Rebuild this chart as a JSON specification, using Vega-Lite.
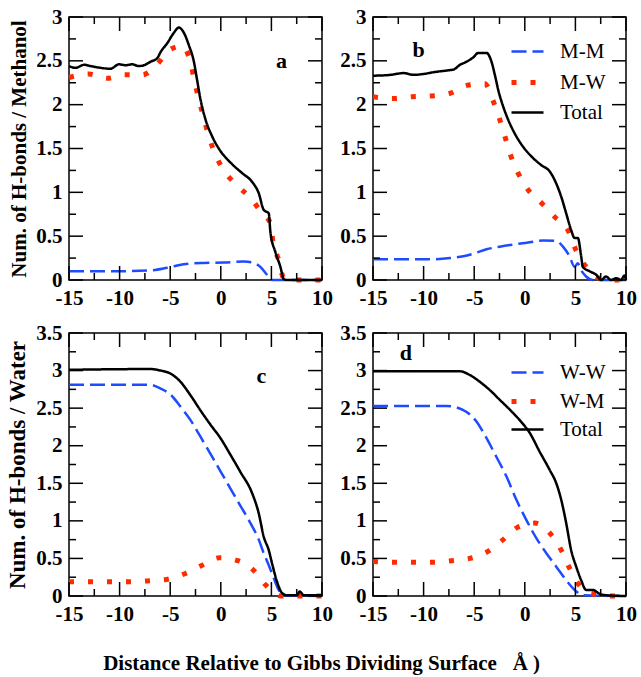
{
  "$schema": "https://vega.github.io/schema/vega-lite/v6.json",
  "datasets": {
    "a": [
      {"x": -15, "y": 0.10, "s": "M-M"}, {"x": -12.86, "y": 0.10, "s": "M-M"}, {"x": -9.9, "y": 0.10, "s": "M-M"}, {"x": -6.94, "y": 0.11, "s": "M-M"}, {"x": -5.3, "y": 0.14, "s": "M-M"}, {"x": -3.65, "y": 0.18, "s": "M-M"}, {"x": -1.68, "y": 0.195, "s": "M-M"}, {"x": 0.3, "y": 0.20, "s": "M-M"}, {"x": 2.27, "y": 0.21, "s": "M-M"}, {"x": 3.09, "y": 0.20, "s": "M-M"}, {"x": 3.91, "y": 0.15, "s": "M-M"}, {"x": 4.57, "y": 0.06, "s": "M-M"}, {"x": 5.07, "y": 0.0, "s": "M-M"}, {"x": 10, "y": 0, "s": "M-M"},
      {"x": -15, "y": 2.31, "s": "M-W"}, {"x": -13.03, "y": 2.35, "s": "M-W"}, {"x": -11.22, "y": 2.30, "s": "M-W"}, {"x": -9.57, "y": 2.34, "s": "M-W"}, {"x": -7.76, "y": 2.34, "s": "M-W"}, {"x": -6.28, "y": 2.46, "s": "M-W"}, {"x": -5.13, "y": 2.62, "s": "M-W"}, {"x": -3.82, "y": 2.67, "s": "M-W"}, {"x": -2.99, "y": 2.48, "s": "M-W"}, {"x": -2.6, "y": 2.27, "s": "M-W"}, {"x": -2.17, "y": 2.06, "s": "M-W"}, {"x": -1.68, "y": 1.85, "s": "M-W"}, {"x": -1.18, "y": 1.64, "s": "M-W"}, {"x": -0.53, "y": 1.43, "s": "M-W"}, {"x": 0.36, "y": 1.24, "s": "M-W"}, {"x": 1.68, "y": 1.07, "s": "M-W"}, {"x": 2.99, "y": 0.93, "s": "M-W"}, {"x": 4.08, "y": 0.76, "s": "M-W"}, {"x": 4.9, "y": 0.65, "s": "M-W"}, {"x": 5.16, "y": 0.43, "s": "M-W"}, {"x": 5.72, "y": 0.23, "s": "M-W"}, {"x": 6.22, "y": 0.02, "s": "M-W"}, {"x": 7.2, "y": 0, "s": "M-W"}, {"x": 10, "y": 0, "s": "M-W"},
      {"x": -15, "y": 2.44, "s": "Total"}, {"x": -14.34, "y": 2.42, "s": "Total"}, {"x": -13.52, "y": 2.455, "s": "Total"}, {"x": -12.86, "y": 2.44, "s": "Total"}, {"x": -11.88, "y": 2.42, "s": "Total"}, {"x": -10.89, "y": 2.41, "s": "Total"}, {"x": -10.07, "y": 2.46, "s": "Total"}, {"x": -9.41, "y": 2.45, "s": "Total"}, {"x": -8.75, "y": 2.46, "s": "Total"}, {"x": -8.09, "y": 2.44, "s": "Total"}, {"x": -7.6, "y": 2.45, "s": "Total"}, {"x": -6.94, "y": 2.49, "s": "Total"}, {"x": -6.28, "y": 2.53, "s": "Total"}, {"x": -5.95, "y": 2.6, "s": "Total"}, {"x": -5.3, "y": 2.7, "s": "Total"}, {"x": -4.64, "y": 2.82, "s": "Total"}, {"x": -4.14, "y": 2.88, "s": "Total"}, {"x": -3.65, "y": 2.82, "s": "Total"}, {"x": -3.16, "y": 2.68, "s": "Total"}, {"x": -2.66, "y": 2.49, "s": "Total"}, {"x": -2.34, "y": 2.28, "s": "Total"}, {"x": -2.01, "y": 2.06, "s": "Total"}, {"x": -1.51, "y": 1.83, "s": "Total"}, {"x": -0.86, "y": 1.64, "s": "Total"}, {"x": -0.03, "y": 1.47, "s": "Total"}, {"x": 0.95, "y": 1.34, "s": "Total"}, {"x": 2.1, "y": 1.22, "s": "Total"}, {"x": 3.09, "y": 1.12, "s": "Total"}, {"x": 3.75, "y": 0.99, "s": "Total"}, {"x": 4.24, "y": 0.80, "s": "Total"}, {"x": 4.74, "y": 0.76, "s": "Total"}, {"x": 4.9, "y": 0.55, "s": "Total"}, {"x": 5.39, "y": 0.32, "s": "Total"}, {"x": 5.89, "y": 0.15, "s": "Total"}, {"x": 6.22, "y": 0.01, "s": "Total"}, {"x": 6.55, "y": 0, "s": "Total"}, {"x": 10, "y": 0, "s": "Total"}
    ],
    "b": [
      {"x": -15, "y": 0.236, "s": "M-M"}, {"x": -13.29, "y": 0.236, "s": "M-M"}, {"x": -11.33, "y": 0.236, "s": "M-M"}, {"x": -9.36, "y": 0.236, "s": "M-M"}, {"x": -7.39, "y": 0.25, "s": "M-M"}, {"x": -6.08, "y": 0.27, "s": "M-M"}, {"x": -5.09, "y": 0.30, "s": "M-M"}, {"x": -3.78, "y": 0.35, "s": "M-M"}, {"x": -2.47, "y": 0.38, "s": "M-M"}, {"x": -0.83, "y": 0.41, "s": "M-M"}, {"x": 0.49, "y": 0.43, "s": "M-M"}, {"x": 1.8, "y": 0.45, "s": "M-M"}, {"x": 3.11, "y": 0.445, "s": "M-M"}, {"x": 3.77, "y": 0.38, "s": "M-M"}, {"x": 4.42, "y": 0.27, "s": "M-M"}, {"x": 4.91, "y": 0.15, "s": "M-M"}, {"x": 5.24, "y": 0.19, "s": "M-M"}, {"x": 5.57, "y": 0.11, "s": "M-M"}, {"x": 6.06, "y": 0.04, "s": "M-M"}, {"x": 6.72, "y": 0, "s": "M-M"}, {"x": 10, "y": 0, "s": "M-M"},
      {"x": -15, "y": 2.09, "s": "M-W"}, {"x": -12.97, "y": 2.07, "s": "M-W"}, {"x": -11.16, "y": 2.09, "s": "M-W"}, {"x": -9.19, "y": 2.10, "s": "M-W"}, {"x": -7.39, "y": 2.13, "s": "M-W"}, {"x": -5.75, "y": 2.22, "s": "M-W"}, {"x": -3.94, "y": 2.24, "s": "M-W"}, {"x": -3.12, "y": 2.04, "s": "M-W"}, {"x": -2.53, "y": 1.85, "s": "M-W"}, {"x": -1.97, "y": 1.64, "s": "M-W"}, {"x": -1.42, "y": 1.43, "s": "M-W"}, {"x": -0.66, "y": 1.22, "s": "M-W"}, {"x": 0.32, "y": 1.03, "s": "M-W"}, {"x": 1.63, "y": 0.88, "s": "M-W"}, {"x": 2.95, "y": 0.72, "s": "M-W"}, {"x": 4.26, "y": 0.57, "s": "M-W"}, {"x": 4.98, "y": 0.36, "s": "M-W"}, {"x": 5.57, "y": 0.23, "s": "M-W"}, {"x": 6.39, "y": 0.11, "s": "M-W"}, {"x": 7.05, "y": 0.03, "s": "M-W"}, {"x": 8.2, "y": 0.01, "s": "M-W"}, {"x": 9.02, "y": 0, "s": "M-W"}, {"x": 10, "y": 0, "s": "M-W"},
      {"x": -15, "y": 2.33, "s": "Total"}, {"x": -13.29, "y": 2.34, "s": "Total"}, {"x": -11.98, "y": 2.36, "s": "Total"}, {"x": -11.0, "y": 2.34, "s": "Total"}, {"x": -10.01, "y": 2.35, "s": "Total"}, {"x": -9.03, "y": 2.37, "s": "Total"}, {"x": -7.72, "y": 2.39, "s": "Total"}, {"x": -7.06, "y": 2.40, "s": "Total"}, {"x": -6.4, "y": 2.455, "s": "Total"}, {"x": -5.75, "y": 2.49, "s": "Total"}, {"x": -5.09, "y": 2.54, "s": "Total"}, {"x": -4.6, "y": 2.59, "s": "Total"}, {"x": -3.78, "y": 2.59, "s": "Total"}, {"x": -3.29, "y": 2.49, "s": "Total"}, {"x": -2.96, "y": 2.34, "s": "Total"}, {"x": -2.63, "y": 2.17, "s": "Total"}, {"x": -2.14, "y": 1.98, "s": "Total"}, {"x": -1.65, "y": 1.83, "s": "Total"}, {"x": -0.99, "y": 1.67, "s": "Total"}, {"x": -0.17, "y": 1.52, "s": "Total"}, {"x": 0.65, "y": 1.41, "s": "Total"}, {"x": 1.63, "y": 1.31, "s": "Total"}, {"x": 2.45, "y": 1.24, "s": "Total"}, {"x": 3.11, "y": 1.10, "s": "Total"}, {"x": 3.6, "y": 0.95, "s": "Total"}, {"x": 4.09, "y": 0.76, "s": "Total"}, {"x": 4.58, "y": 0.57, "s": "Total"}, {"x": 4.91, "y": 0.48, "s": "Total"}, {"x": 5.24, "y": 0.48, "s": "Total"}, {"x": 5.57, "y": 0.27, "s": "Total"}, {"x": 5.73, "y": 0.15, "s": "Total"}, {"x": 6.39, "y": 0.10, "s": "Total"}, {"x": 7.05, "y": 0.06, "s": "Total"}, {"x": 7.54, "y": 0, "s": "Total"}, {"x": 8.03, "y": 0.04, "s": "Total"}, {"x": 8.52, "y": 0, "s": "Total"}, {"x": 9.02, "y": 0.02, "s": "Total"}, {"x": 9.51, "y": 0, "s": "Total"}, {"x": 9.84, "y": 0.05, "s": "Total"}, {"x": 10, "y": 0, "s": "Total"}
    ],
    "c": [
      {"x": -15, "y": 2.81, "s": "W-W"}, {"x": -6.94, "y": 2.81, "s": "W-W"}, {"x": -5.95, "y": 2.76, "s": "W-W"}, {"x": -4.97, "y": 2.68, "s": "W-W"}, {"x": -3.98, "y": 2.52, "s": "W-W"}, {"x": -2.99, "y": 2.34, "s": "W-W"}, {"x": -2.01, "y": 2.12, "s": "W-W"}, {"x": -1.02, "y": 1.89, "s": "W-W"}, {"x": -0.03, "y": 1.66, "s": "W-W"}, {"x": 0.95, "y": 1.43, "s": "W-W"}, {"x": 1.94, "y": 1.20, "s": "W-W"}, {"x": 2.93, "y": 0.97, "s": "W-W"}, {"x": 3.75, "y": 0.75, "s": "W-W"}, {"x": 4.24, "y": 0.57, "s": "W-W"}, {"x": 4.74, "y": 0.41, "s": "W-W"}, {"x": 5.23, "y": 0.24, "s": "W-W"}, {"x": 5.72, "y": 0.08, "s": "W-W"}, {"x": 6.22, "y": 0.01, "s": "W-W"}, {"x": 10, "y": 0, "s": "W-W"},
      {"x": -15, "y": 0.19, "s": "W-M"}, {"x": -12.86, "y": 0.19, "s": "W-M"}, {"x": -11.05, "y": 0.19, "s": "W-M"}, {"x": -9.08, "y": 0.19, "s": "W-M"}, {"x": -7.27, "y": 0.20, "s": "W-M"}, {"x": -5.36, "y": 0.22, "s": "W-M"}, {"x": -3.49, "y": 0.30, "s": "W-M"}, {"x": -1.84, "y": 0.41, "s": "W-M"}, {"x": -0.1, "y": 0.51, "s": "W-M"}, {"x": 1.68, "y": 0.47, "s": "W-M"}, {"x": 3.26, "y": 0.34, "s": "W-M"}, {"x": 4.41, "y": 0.15, "s": "W-M"}, {"x": 6.05, "y": 0, "s": "W-M"}, {"x": 7.7, "y": 0, "s": "W-M"}, {"x": 10, "y": 0, "s": "W-M"},
      {"x": -15, "y": 3.01, "s": "Total"}, {"x": -7.43, "y": 3.02, "s": "Total"}, {"x": -6.94, "y": 3.02, "s": "Total"}, {"x": -5.95, "y": 3.0, "s": "Total"}, {"x": -4.97, "y": 2.96, "s": "Total"}, {"x": -3.98, "y": 2.85, "s": "Total"}, {"x": -2.99, "y": 2.67, "s": "Total"}, {"x": -2.01, "y": 2.47, "s": "Total"}, {"x": -1.02, "y": 2.28, "s": "Total"}, {"x": -0.03, "y": 2.10, "s": "Total"}, {"x": 0.95, "y": 1.88, "s": "Total"}, {"x": 1.94, "y": 1.65, "s": "Total"}, {"x": 3.09, "y": 1.37, "s": "Total"}, {"x": 3.75, "y": 1.10, "s": "Total"}, {"x": 4.24, "y": 0.79, "s": "Total"}, {"x": 4.74, "y": 0.61, "s": "Total"}, {"x": 5.07, "y": 0.43, "s": "Total"}, {"x": 5.56, "y": 0.19, "s": "Total"}, {"x": 6.05, "y": 0.04, "s": "Total"}, {"x": 6.55, "y": 0.01, "s": "Total"}, {"x": 7.53, "y": 0.01, "s": "Total"}, {"x": 7.8, "y": 0.06, "s": "Total"}, {"x": 8.19, "y": 0.01, "s": "Total"}, {"x": 10, "y": 0.01, "s": "Total"}
    ],
    "d": [
      {"x": -15, "y": 2.53, "s": "W-W"}, {"x": -7.72, "y": 2.53, "s": "W-W"}, {"x": -6.73, "y": 2.51, "s": "W-W"}, {"x": -5.75, "y": 2.45, "s": "W-W"}, {"x": -4.76, "y": 2.32, "s": "W-W"}, {"x": -3.78, "y": 2.10, "s": "W-W"}, {"x": -2.8, "y": 1.85, "s": "W-W"}, {"x": -1.81, "y": 1.59, "s": "W-W"}, {"x": -0.83, "y": 1.28, "s": "W-W"}, {"x": 0.16, "y": 1.01, "s": "W-W"}, {"x": 1.14, "y": 0.77, "s": "W-W"}, {"x": 2.13, "y": 0.57, "s": "W-W"}, {"x": 3.11, "y": 0.39, "s": "W-W"}, {"x": 4.09, "y": 0.21, "s": "W-W"}, {"x": 5.08, "y": 0.06, "s": "W-W"}, {"x": 5.73, "y": 0.01, "s": "W-W"}, {"x": 10, "y": 0, "s": "W-W"},
      {"x": -15, "y": 0.46, "s": "W-M"}, {"x": -12.97, "y": 0.45, "s": "W-M"}, {"x": -11.0, "y": 0.45, "s": "W-M"}, {"x": -9.03, "y": 0.45, "s": "W-M"}, {"x": -7.22, "y": 0.47, "s": "W-M"}, {"x": -5.42, "y": 0.50, "s": "W-M"}, {"x": -3.68, "y": 0.59, "s": "W-M"}, {"x": -2.14, "y": 0.75, "s": "W-M"}, {"x": -0.76, "y": 0.91, "s": "W-M"}, {"x": 0.98, "y": 0.97, "s": "W-M"}, {"x": 2.52, "y": 0.83, "s": "W-M"}, {"x": 3.6, "y": 0.61, "s": "W-M"}, {"x": 4.42, "y": 0.37, "s": "W-M"}, {"x": 5.24, "y": 0.17, "s": "W-M"}, {"x": 6.39, "y": 0.04, "s": "W-M"}, {"x": 8.42, "y": 0, "s": "W-M"}, {"x": 10, "y": 0, "s": "W-M"},
      {"x": -15, "y": 2.99, "s": "Total"}, {"x": -6.4, "y": 2.99, "s": "Total"}, {"x": -5.42, "y": 2.94, "s": "Total"}, {"x": -4.44, "y": 2.85, "s": "Total"}, {"x": -3.45, "y": 2.74, "s": "Total"}, {"x": -2.47, "y": 2.61, "s": "Total"}, {"x": -1.48, "y": 2.48, "s": "Total"}, {"x": -0.5, "y": 2.34, "s": "Total"}, {"x": 0.49, "y": 2.17, "s": "Total"}, {"x": 1.47, "y": 1.92, "s": "Total"}, {"x": 2.45, "y": 1.68, "s": "Total"}, {"x": 3.11, "y": 1.50, "s": "Total"}, {"x": 3.6, "y": 1.28, "s": "Total"}, {"x": 4.09, "y": 0.97, "s": "Total"}, {"x": 4.58, "y": 0.61, "s": "Total"}, {"x": 5.08, "y": 0.39, "s": "Total"}, {"x": 5.57, "y": 0.21, "s": "Total"}, {"x": 6.06, "y": 0.08, "s": "Total"}, {"x": 6.72, "y": 0.08, "s": "Total"}, {"x": 7.38, "y": 0.03, "s": "Total"}, {"x": 8.03, "y": 0.01, "s": "Total"}, {"x": 10, "y": 0, "s": "Total"}
    ],
    "xt": [
      {"v": -15, "k": "major"}, {"v": -12.5, "k": "minor"}, {"v": -10, "k": "major"}, {"v": -7.5, "k": "minor"}, {"v": -5, "k": "major"}, {"v": -2.5, "k": "minor"}, {"v": 0, "k": "major"}, {"v": 2.5, "k": "minor"}, {"v": 5, "k": "major"}, {"v": 7.5, "k": "minor"}, {"v": 10, "k": "major"}
    ],
    "yt3": [
      {"v": 0, "k": "major"}, {"v": 0.25, "k": "minor"}, {"v": 0.5, "k": "major"}, {"v": 0.75, "k": "minor"}, {"v": 1, "k": "major"}, {"v": 1.25, "k": "minor"}, {"v": 1.5, "k": "major"}, {"v": 1.75, "k": "minor"}, {"v": 2, "k": "major"}, {"v": 2.25, "k": "minor"}, {"v": 2.5, "k": "major"}, {"v": 2.75, "k": "minor"}, {"v": 3, "k": "major"}
    ],
    "yt35": [
      {"v": 0, "k": "major"}, {"v": 0.25, "k": "minor"}, {"v": 0.5, "k": "major"}, {"v": 0.75, "k": "minor"}, {"v": 1, "k": "major"}, {"v": 1.25, "k": "minor"}, {"v": 1.5, "k": "major"}, {"v": 1.75, "k": "minor"}, {"v": 2, "k": "major"}, {"v": 2.25, "k": "minor"}, {"v": 2.5, "k": "major"}, {"v": 2.75, "k": "minor"}, {"v": 3, "k": "major"}, {"v": 3.25, "k": "minor"}, {"v": 3.5, "k": "major"}
    ]
  },
  "columns": 2,
  "spacing": {"row": 53, "column": 51},
  "bounds": "flush",
  "title": {"text": "Distance Relative to Gibbs Dividing Surface\u00a0\u00a0\u00a0Å )", "orient": "bottom", "anchor": "middle", "font": "Liberation Serif", "fontSize": 21, "fontWeight": "bold", "color": "black", "offset": 28},
  "resolve": {"scale": {"color": "independent", "strokeDash": "independent", "strokeWidth": "independent"}},
  "concat": [
    {
      "width": 253, "height": 263,
      "resolve": {"axis": {"x": "independent", "y": "independent"}},
      "layer": [
        {
          "data": {"name": "a"},
          "mark": {"type": "line", "interpolate": "monotone", "strokeCap": "butt"},
          "encoding": {
            "x": {"field": "x", "type": "quantitative", "scale": {"domain": [-15, 10], "nice": false, "zero": false}, "axis": {"orient": "bottom", "values": [-15, -10, -5, 0, 5, 10], "ticks": false, "tickSize": 0, "labelPadding": 7, "labelFlush": false, "labelExpr": "toString(datum.value)", "title": null}},
            "y": {"field": "y", "type": "quantitative", "scale": {"domain": [0, 3], "nice": false, "zero": false}, "axis": {"orient": "left", "values": [0, 0.5, 1, 1.5, 2, 2.5, 3], "ticks": false, "tickSize": 0, "labelPadding": 7, "labelFlush": false, "labelExpr": "toString(datum.value)", "title": "Num. of H-bonds / Methanol", "titlePadding": 6}},
            "color": {"field": "s", "type": "nominal", "scale": {"domain": ["M-M", "M-W", "Total"], "range": ["#1e4bff", "#ff2a00", "#000000"]}, "legend": null},
            "strokeDash": {"field": "s", "type": "nominal", "scale": {"domain": ["M-M", "M-W", "Total"], "range": [[15, 6], [5, 14], [1, 0]]}, "legend": null},
            "strokeWidth": {"field": "s", "type": "nominal", "scale": {"type": "ordinal", "domain": ["M-M", "M-W", "Total"], "range": [2.5, 5, 2.5]}, "legend": null}
          }
        },
        {
          "data": {"values": [{"x": 6, "y": 2.5, "t": "a"}]},
          "mark": {"type": "text", "font": "Liberation Serif", "fontSize": 22, "fontWeight": "bold", "color": "black"},
          "encoding": {
            "x": {"field": "x", "type": "quantitative", "scale": {"domain": [-15, 10], "nice": false, "zero": false}, "axis": null},
            "y": {"field": "y", "type": "quantitative", "scale": {"domain": [0, 3], "nice": false, "zero": false}, "axis": null},
            "text": {"field": "t"}
          }
        },
        {
          "data": {"name": "xt"},
          "mark": {"type": "point", "shape": "M0,0L0,-1", "filled": false, "color": "black", "strokeWidth": 1.5, "opacity": 1},
          "encoding": {
            "x": {"field": "v", "type": "quantitative", "scale": {"domain": [-15, 10], "nice": false, "zero": false}, "axis": null},
            "y": {"datum": 0, "type": "quantitative", "scale": {"domain": [0, 3], "nice": false, "zero": false}, "axis": null},
            "size": {"field": "k", "type": "nominal", "scale": {"type": "ordinal", "domain": ["major", "minor"], "range": [784, 196]}, "legend": null}
          }
        },
        {
          "data": {"name": "xt"},
          "mark": {"type": "point", "shape": "M0,0L0,1", "filled": false, "color": "black", "strokeWidth": 1.5, "opacity": 1},
          "encoding": {
            "x": {"field": "v", "type": "quantitative", "scale": {"domain": [-15, 10], "nice": false, "zero": false}, "axis": null},
            "y": {"datum": 3, "type": "quantitative", "scale": {"domain": [0, 3], "nice": false, "zero": false}, "axis": null},
            "size": {"field": "k", "type": "nominal", "scale": {"type": "ordinal", "domain": ["major", "minor"], "range": [784, 196]}, "legend": null}
          }
        },
        {
          "data": {"name": "yt3"},
          "mark": {"type": "point", "shape": "M0,0L1,0", "filled": false, "color": "black", "strokeWidth": 1.5, "opacity": 1},
          "encoding": {
            "y": {"field": "v", "type": "quantitative", "scale": {"domain": [0, 3], "nice": false, "zero": false}, "axis": null},
            "x": {"datum": -15, "type": "quantitative", "scale": {"domain": [-15, 10], "nice": false, "zero": false}, "axis": null},
            "size": {"field": "k", "type": "nominal", "scale": {"type": "ordinal", "domain": ["major", "minor"], "range": [784, 196]}, "legend": null}
          }
        },
        {
          "data": {"name": "yt3"},
          "mark": {"type": "point", "shape": "M0,0L-1,0", "filled": false, "color": "black", "strokeWidth": 1.5, "opacity": 1},
          "encoding": {
            "y": {"field": "v", "type": "quantitative", "scale": {"domain": [0, 3], "nice": false, "zero": false}, "axis": null},
            "x": {"datum": 10, "type": "quantitative", "scale": {"domain": [-15, 10], "nice": false, "zero": false}, "axis": null},
            "size": {"field": "k", "type": "nominal", "scale": {"type": "ordinal", "domain": ["major", "minor"], "range": [784, 196]}, "legend": null}
          }
        }
      ]
    },
    {
      "width": 253, "height": 263,
      "resolve": {"axis": {"x": "independent", "y": "independent"}},
      "layer": [
        {
          "data": {"name": "b"},
          "mark": {"type": "line", "interpolate": "monotone", "strokeCap": "butt"},
          "encoding": {
            "x": {"field": "x", "type": "quantitative", "scale": {"domain": [-15, 10], "nice": false, "zero": false}, "axis": {"orient": "bottom", "values": [-15, -10, -5, 0, 5, 10], "ticks": false, "tickSize": 0, "labelPadding": 7, "labelFlush": false, "labelExpr": "toString(datum.value)", "title": null}},
            "y": {"field": "y", "type": "quantitative", "scale": {"domain": [0, 3], "nice": false, "zero": false}, "axis": {"orient": "left", "values": [0, 0.5, 1, 1.5, 2, 2.5, 3], "ticks": false, "tickSize": 0, "labelPadding": 7, "labelFlush": false, "labelExpr": "toString(datum.value)", "title": null}},
            "color": {"field": "s", "type": "nominal", "scale": {"domain": ["M-M", "M-W", "Total"], "range": ["#1e4bff", "#ff2a00", "#000000"]}, "legend": {"orient": "none", "legendX": 136, "legendY": 17, "title": null, "symbolType": "M-1,0L1,0", "symbolSize": 1024, "labelFont": "Liberation Serif", "labelFontSize": 21, "labelFontWeight": "normal", "labelColor": "black", "labelOffset": 14, "rowPadding": 2, "padding": 0}},
            "strokeDash": {"field": "s", "type": "nominal", "scale": {"domain": ["M-M", "M-W", "Total"], "range": [[15, 6], [5, 14], [1, 0]]}, "legend": {"orient": "none", "legendX": 136, "legendY": 17, "title": null, "symbolType": "M-1,0L1,0", "symbolSize": 1024, "labelFont": "Liberation Serif", "labelFontSize": 21, "labelFontWeight": "normal", "labelColor": "black", "labelOffset": 14, "rowPadding": 2, "padding": 0}},
            "strokeWidth": {"field": "s", "type": "nominal", "scale": {"type": "ordinal", "domain": ["M-M", "M-W", "Total"], "range": [2.5, 5, 2.5]}, "legend": {"orient": "none", "legendX": 136, "legendY": 17, "title": null, "symbolType": "M-1,0L1,0", "symbolSize": 1024, "labelFont": "Liberation Serif", "labelFontSize": 21, "labelFontWeight": "normal", "labelColor": "black", "labelOffset": 14, "rowPadding": 2, "padding": 0}}
          }
        },
        {
          "data": {"values": [{"x": -10.5, "y": 2.62, "t": "b"}]},
          "mark": {"type": "text", "font": "Liberation Serif", "fontSize": 22, "fontWeight": "bold", "color": "black"},
          "encoding": {
            "x": {"field": "x", "type": "quantitative", "scale": {"domain": [-15, 10], "nice": false, "zero": false}, "axis": null},
            "y": {"field": "y", "type": "quantitative", "scale": {"domain": [0, 3], "nice": false, "zero": false}, "axis": null},
            "text": {"field": "t"}
          }
        },
        {
          "data": {"name": "xt"},
          "mark": {"type": "point", "shape": "M0,0L0,-1", "filled": false, "color": "black", "strokeWidth": 1.5, "opacity": 1},
          "encoding": {
            "x": {"field": "v", "type": "quantitative", "scale": {"domain": [-15, 10], "nice": false, "zero": false}, "axis": null},
            "y": {"datum": 0, "type": "quantitative", "scale": {"domain": [0, 3], "nice": false, "zero": false}, "axis": null},
            "size": {"field": "k", "type": "nominal", "scale": {"type": "ordinal", "domain": ["major", "minor"], "range": [784, 196]}, "legend": null}
          }
        },
        {
          "data": {"name": "xt"},
          "mark": {"type": "point", "shape": "M0,0L0,1", "filled": false, "color": "black", "strokeWidth": 1.5, "opacity": 1},
          "encoding": {
            "x": {"field": "v", "type": "quantitative", "scale": {"domain": [-15, 10], "nice": false, "zero": false}, "axis": null},
            "y": {"datum": 3, "type": "quantitative", "scale": {"domain": [0, 3], "nice": false, "zero": false}, "axis": null},
            "size": {"field": "k", "type": "nominal", "scale": {"type": "ordinal", "domain": ["major", "minor"], "range": [784, 196]}, "legend": null}
          }
        },
        {
          "data": {"name": "yt3"},
          "mark": {"type": "point", "shape": "M0,0L1,0", "filled": false, "color": "black", "strokeWidth": 1.5, "opacity": 1},
          "encoding": {
            "y": {"field": "v", "type": "quantitative", "scale": {"domain": [0, 3], "nice": false, "zero": false}, "axis": null},
            "x": {"datum": -15, "type": "quantitative", "scale": {"domain": [-15, 10], "nice": false, "zero": false}, "axis": null},
            "size": {"field": "k", "type": "nominal", "scale": {"type": "ordinal", "domain": ["major", "minor"], "range": [784, 196]}, "legend": null}
          }
        },
        {
          "data": {"name": "yt3"},
          "mark": {"type": "point", "shape": "M0,0L-1,0", "filled": false, "color": "black", "strokeWidth": 1.5, "opacity": 1},
          "encoding": {
            "y": {"field": "v", "type": "quantitative", "scale": {"domain": [0, 3], "nice": false, "zero": false}, "axis": null},
            "x": {"datum": 10, "type": "quantitative", "scale": {"domain": [-15, 10], "nice": false, "zero": false}, "axis": null},
            "size": {"field": "k", "type": "nominal", "scale": {"type": "ordinal", "domain": ["major", "minor"], "range": [784, 196]}, "legend": null}
          }
        }
      ]
    },
    {
      "width": 253, "height": 263,
      "resolve": {"axis": {"x": "independent", "y": "independent"}},
      "layer": [
        {
          "data": {"name": "c"},
          "mark": {"type": "line", "interpolate": "monotone", "strokeCap": "butt"},
          "encoding": {
            "x": {"field": "x", "type": "quantitative", "scale": {"domain": [-15, 10], "nice": false, "zero": false}, "axis": {"orient": "bottom", "values": [-15, -10, -5, 0, 5, 10], "ticks": false, "tickSize": 0, "labelPadding": 7, "labelFlush": false, "labelExpr": "toString(datum.value)", "title": null}},
            "y": {"field": "y", "type": "quantitative", "scale": {"domain": [0, 3.5], "nice": false, "zero": false}, "axis": {"orient": "left", "values": [0, 0.5, 1, 1.5, 2, 2.5, 3, 3.5], "ticks": false, "tickSize": 0, "labelPadding": 7, "labelFlush": false, "labelExpr": "toString(datum.value)", "title": "Num. of H-bonds / Water", "titlePadding": 6, "titleFontSize": 23}},
            "color": {"field": "s", "type": "nominal", "scale": {"domain": ["W-W", "W-M", "Total"], "range": ["#1e4bff", "#ff2a00", "#000000"]}, "legend": null},
            "strokeDash": {"field": "s", "type": "nominal", "scale": {"domain": ["W-W", "W-M", "Total"], "range": [[15, 6], [5, 14], [1, 0]]}, "legend": null},
            "strokeWidth": {"field": "s", "type": "nominal", "scale": {"type": "ordinal", "domain": ["W-W", "W-M", "Total"], "range": [2.5, 5, 2.5]}, "legend": null}
          }
        },
        {
          "data": {"values": [{"x": 4, "y": 2.93, "t": "c"}]},
          "mark": {"type": "text", "font": "Liberation Serif", "fontSize": 22, "fontWeight": "bold", "color": "black"},
          "encoding": {
            "x": {"field": "x", "type": "quantitative", "scale": {"domain": [-15, 10], "nice": false, "zero": false}, "axis": null},
            "y": {"field": "y", "type": "quantitative", "scale": {"domain": [0, 3.5], "nice": false, "zero": false}, "axis": null},
            "text": {"field": "t"}
          }
        },
        {
          "data": {"name": "xt"},
          "mark": {"type": "point", "shape": "M0,0L0,-1", "filled": false, "color": "black", "strokeWidth": 1.5, "opacity": 1},
          "encoding": {
            "x": {"field": "v", "type": "quantitative", "scale": {"domain": [-15, 10], "nice": false, "zero": false}, "axis": null},
            "y": {"datum": 0, "type": "quantitative", "scale": {"domain": [0, 3.5], "nice": false, "zero": false}, "axis": null},
            "size": {"field": "k", "type": "nominal", "scale": {"type": "ordinal", "domain": ["major", "minor"], "range": [784, 196]}, "legend": null}
          }
        },
        {
          "data": {"name": "xt"},
          "mark": {"type": "point", "shape": "M0,0L0,1", "filled": false, "color": "black", "strokeWidth": 1.5, "opacity": 1},
          "encoding": {
            "x": {"field": "v", "type": "quantitative", "scale": {"domain": [-15, 10], "nice": false, "zero": false}, "axis": null},
            "y": {"datum": 3.5, "type": "quantitative", "scale": {"domain": [0, 3.5], "nice": false, "zero": false}, "axis": null},
            "size": {"field": "k", "type": "nominal", "scale": {"type": "ordinal", "domain": ["major", "minor"], "range": [784, 196]}, "legend": null}
          }
        },
        {
          "data": {"name": "yt35"},
          "mark": {"type": "point", "shape": "M0,0L1,0", "filled": false, "color": "black", "strokeWidth": 1.5, "opacity": 1},
          "encoding": {
            "y": {"field": "v", "type": "quantitative", "scale": {"domain": [0, 3.5], "nice": false, "zero": false}, "axis": null},
            "x": {"datum": -15, "type": "quantitative", "scale": {"domain": [-15, 10], "nice": false, "zero": false}, "axis": null},
            "size": {"field": "k", "type": "nominal", "scale": {"type": "ordinal", "domain": ["major", "minor"], "range": [784, 196]}, "legend": null}
          }
        },
        {
          "data": {"name": "yt35"},
          "mark": {"type": "point", "shape": "M0,0L-1,0", "filled": false, "color": "black", "strokeWidth": 1.5, "opacity": 1},
          "encoding": {
            "y": {"field": "v", "type": "quantitative", "scale": {"domain": [0, 3.5], "nice": false, "zero": false}, "axis": null},
            "x": {"datum": 10, "type": "quantitative", "scale": {"domain": [-15, 10], "nice": false, "zero": false}, "axis": null},
            "size": {"field": "k", "type": "nominal", "scale": {"type": "ordinal", "domain": ["major", "minor"], "range": [784, 196]}, "legend": null}
          }
        }
      ]
    },
    {
      "width": 253, "height": 263,
      "resolve": {"axis": {"x": "independent", "y": "independent"}},
      "layer": [
        {
          "data": {"name": "d"},
          "mark": {"type": "line", "interpolate": "monotone", "strokeCap": "butt"},
          "encoding": {
            "x": {"field": "x", "type": "quantitative", "scale": {"domain": [-15, 10], "nice": false, "zero": false}, "axis": {"orient": "bottom", "values": [-15, -10, -5, 0, 5, 10], "ticks": false, "tickSize": 0, "labelPadding": 7, "labelFlush": false, "labelExpr": "toString(datum.value)", "title": null}},
            "y": {"field": "y", "type": "quantitative", "scale": {"domain": [0, 3.5], "nice": false, "zero": false}, "axis": {"orient": "left", "values": [0, 0.5, 1, 1.5, 2, 2.5, 3, 3.5], "ticks": false, "tickSize": 0, "labelPadding": 7, "labelFlush": false, "labelExpr": "toString(datum.value)", "title": null}},
            "color": {"field": "s", "type": "nominal", "scale": {"domain": ["W-W", "W-M", "Total"], "range": ["#1e4bff", "#ff2a00", "#000000"]}, "legend": {"orient": "none", "legendX": 136, "legendY": 22, "title": null, "symbolType": "M-1,0L1,0", "symbolSize": 1024, "labelFont": "Liberation Serif", "labelFontSize": 21, "labelFontWeight": "normal", "labelColor": "black", "labelOffset": 14, "rowPadding": 0, "padding": 0}},
            "strokeDash": {"field": "s", "type": "nominal", "scale": {"domain": ["W-W", "W-M", "Total"], "range": [[15, 6], [5, 14], [1, 0]]}, "legend": {"orient": "none", "legendX": 136, "legendY": 22, "title": null, "symbolType": "M-1,0L1,0", "symbolSize": 1024, "labelFont": "Liberation Serif", "labelFontSize": 21, "labelFontWeight": "normal", "labelColor": "black", "labelOffset": 14, "rowPadding": 0, "padding": 0}},
            "strokeWidth": {"field": "s", "type": "nominal", "scale": {"type": "ordinal", "domain": ["W-W", "W-M", "Total"], "range": [2.5, 5, 2.5]}, "legend": {"orient": "none", "legendX": 136, "legendY": 22, "title": null, "symbolType": "M-1,0L1,0", "symbolSize": 1024, "labelFont": "Liberation Serif", "labelFontSize": 21, "labelFontWeight": "normal", "labelColor": "black", "labelOffset": 14, "rowPadding": 0, "padding": 0}}
          }
        },
        {
          "data": {"values": [{"x": -11.75, "y": 3.23, "t": "d"}]},
          "mark": {"type": "text", "font": "Liberation Serif", "fontSize": 22, "fontWeight": "bold", "color": "black"},
          "encoding": {
            "x": {"field": "x", "type": "quantitative", "scale": {"domain": [-15, 10], "nice": false, "zero": false}, "axis": null},
            "y": {"field": "y", "type": "quantitative", "scale": {"domain": [0, 3.5], "nice": false, "zero": false}, "axis": null},
            "text": {"field": "t"}
          }
        },
        {
          "data": {"name": "xt"},
          "mark": {"type": "point", "shape": "M0,0L0,-1", "filled": false, "color": "black", "strokeWidth": 1.5, "opacity": 1},
          "encoding": {
            "x": {"field": "v", "type": "quantitative", "scale": {"domain": [-15, 10], "nice": false, "zero": false}, "axis": null},
            "y": {"datum": 0, "type": "quantitative", "scale": {"domain": [0, 3.5], "nice": false, "zero": false}, "axis": null},
            "size": {"field": "k", "type": "nominal", "scale": {"type": "ordinal", "domain": ["major", "minor"], "range": [784, 196]}, "legend": null}
          }
        },
        {
          "data": {"name": "xt"},
          "mark": {"type": "point", "shape": "M0,0L0,1", "filled": false, "color": "black", "strokeWidth": 1.5, "opacity": 1},
          "encoding": {
            "x": {"field": "v", "type": "quantitative", "scale": {"domain": [-15, 10], "nice": false, "zero": false}, "axis": null},
            "y": {"datum": 3.5, "type": "quantitative", "scale": {"domain": [0, 3.5], "nice": false, "zero": false}, "axis": null},
            "size": {"field": "k", "type": "nominal", "scale": {"type": "ordinal", "domain": ["major", "minor"], "range": [784, 196]}, "legend": null}
          }
        },
        {
          "data": {"name": "yt35"},
          "mark": {"type": "point", "shape": "M0,0L1,0", "filled": false, "color": "black", "strokeWidth": 1.5, "opacity": 1},
          "encoding": {
            "y": {"field": "v", "type": "quantitative", "scale": {"domain": [0, 3.5], "nice": false, "zero": false}, "axis": null},
            "x": {"datum": -15, "type": "quantitative", "scale": {"domain": [-15, 10], "nice": false, "zero": false}, "axis": null},
            "size": {"field": "k", "type": "nominal", "scale": {"type": "ordinal", "domain": ["major", "minor"], "range": [784, 196]}, "legend": null}
          }
        },
        {
          "data": {"name": "yt35"},
          "mark": {"type": "point", "shape": "M0,0L-1,0", "filled": false, "color": "black", "strokeWidth": 1.5, "opacity": 1},
          "encoding": {
            "y": {"field": "v", "type": "quantitative", "scale": {"domain": [0, 3.5], "nice": false, "zero": false}, "axis": null},
            "x": {"datum": 10, "type": "quantitative", "scale": {"domain": [-15, 10], "nice": false, "zero": false}, "axis": null},
            "size": {"field": "k", "type": "nominal", "scale": {"type": "ordinal", "domain": ["major", "minor"], "range": [784, 196]}, "legend": null}
          }
        }
      ]
    }
  ],
  "config": {
    "view": {"stroke": "black", "strokeWidth": 1.5},
    "font": "Liberation Serif",
    "axis": {"grid": false, "domain": false, "labelFont": "Liberation Serif", "labelFontSize": 21, "labelFontWeight": "bold", "labelColor": "black", "titleFont": "Liberation Serif", "titleFontSize": 21, "titleFontWeight": "bold", "titleColor": "black"}
  }
}
